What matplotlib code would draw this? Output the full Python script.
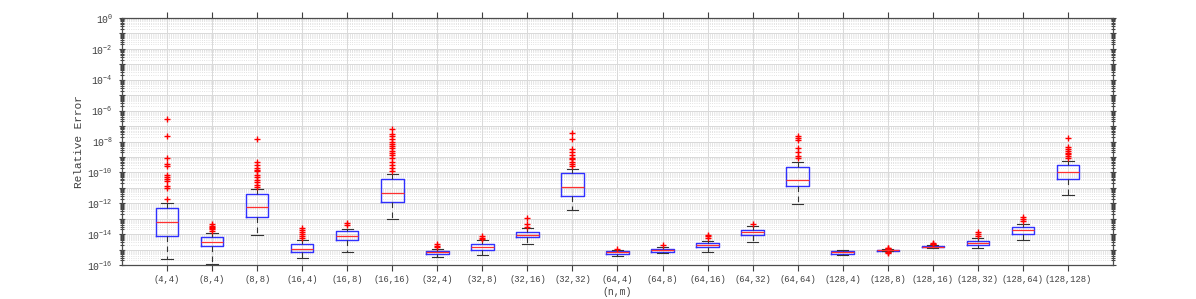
import numpy as np
import matplotlib.pyplot as plt
from matplotlib.ticker import LogLocator, FuncFormatter, NullFormatter

plt.rcParams['mathtext.fontset'] = 'custom'
plt.rcParams['mathtext.rm'] = 'Liberation Mono'
plt.rcParams['mathtext.it'] = 'Liberation Mono'
plt.rcParams['mathtext.bf'] = 'Liberation Mono'

# group labels
labels = ['(4,4)', '(8,4)', '(8,8)', '(16,4)', '(16,8)', '(16,16)', '(32,4)', '(32,8)',
          '(32,16)', '(32,32)', '(64,4)', '(64,8)', '(64,16)', '(64,32)', '(64,64)',
          '(128,4)', '(128,8)', '(128,16)', '(128,32)', '(128,64)', '(128,128)']

# box statistics, log10 of relative error
med = [-13.21, -14.51, -12.22, -14.99, -14.12, -11.33, -15.18, -14.81, -14.03, -10.97, -15.18,
       -15.06, -14.70, -13.89, -10.52, -15.18, -15.05, -14.82, -14.60, -13.76, -9.96]
q1 = [-14.14, -14.75, -12.89, -15.16, -14.38, -11.92, -15.31, -15.01, -14.21, -11.51, -15.26,
      -15.16, -14.83, -14.06, -10.86, -15.27, -15.08, -14.86, -14.73, -13.97, -10.43]
q3 = [-12.33, -14.21, -11.42, -14.64, -13.82, -10.45, -15.07, -14.64, -13.86, -10.02, -15.11,
      -14.96, -14.57, -13.73, -9.67, -15.10, -15.02, -14.79, -14.44, -13.54, -9.55]
whislo = [-15.59, -15.91, -14.08, -15.54, -15.14, -13.00, -15.48, -15.33, -14.66, -12.44, -15.44,
          -15.22, -15.14, -14.51, -12.05, -15.36, -15.12, -14.92, -14.90, -14.36, -11.46]
whishi = [-12.00, -13.93, -11.06, -14.36, -13.69, -10.08, -14.94, -14.40, -13.63, -9.78, -15.01,
          -14.86, -14.44, -13.50, -9.31, -15.00, -14.98, -14.72, -14.23, -13.34, -9.24]
outliers = [
    [-6.54, -7.64, -9.09, -9.46, -9.59, -10.15, -10.30, -10.43, -10.58, -10.86, -11.01, -11.75],
    [-13.34, -13.45, -13.55, -13.62, -13.70, -13.78],
    [-7.84, -9.31, -9.50, -9.72, -9.82, -9.93, -10.15, -10.30, -10.47, -10.65, -10.80, -10.95],
    [-13.60, -13.75, -13.88, -14.00, -14.12, -14.22],
    [-13.28, -13.41],
    [-7.17, -7.50, -7.62, -7.85, -8.00, -8.15, -8.30, -8.45, -8.60, -8.75, -8.90, -9.10,
     -9.30, -9.50, -9.70, -9.90],
    [-14.62, -14.75, -14.86],
    [-14.10, -14.23, -14.30],
    [-12.93, -13.32, -13.54],
    [-7.47, -7.84, -8.51, -8.70, -8.90, -9.05, -9.15, -9.30, -9.45, -9.60],
    [-14.94],
    [-14.73],
    [-14.03, -14.14, -14.22],
    [-13.32],
    [-7.62, -7.75, -7.88, -8.42, -8.70, -8.96, -9.05],
    [],
    [-14.90, -14.93, -14.95, -15.15, -15.17, -15.20],
    [-14.55, -14.62, -14.66],
    [-13.84, -13.99, -14.12],
    [-12.91, -13.02, -13.13],
    [-7.80, -8.34, -8.48, -8.60, -8.72, -8.84, -8.96, -9.06],
]

stats = []
for i in range(len(labels)):
    stats.append(dict(med=10**med[i], q1=10**q1[i], q3=10**q3[i],
                      whislo=10**whislo[i], whishi=10**whishi[i],
                      fliers=10**np.array(outliers[i], dtype=float)))

txt = '#404040'
fig = plt.figure(figsize=(11.96, 2.99), dpi=100)
ax = fig.add_axes([0.102, 0.1137, 0.8286, 0.8261])
pos = np.arange(1, len(labels) + 1)

ax.bxp(stats, positions=pos, widths=0.5, capwidths=0.25,
       boxprops=dict(color='#3030ff', linewidth=1.0),
       medianprops=dict(color='#ff3030', linewidth=0.9),
       whiskerprops=dict(color='#333333', linewidth=0.8, linestyle=(0, (5, 4))),
       capprops=dict(color='#333333', linewidth=0.8),
       flierprops=dict(marker='+', markeredgecolor='red', markersize=5, linestyle='none'))

ax.set_yscale('log')
ax.set_ylim(1e-16, 1e0)
ax.set_xlim(0, 22)
ax.set_xticks(pos)
ax.set_xticklabels(labels, family='Liberation Mono', fontsize=6.3, color=txt)

ax.yaxis.set_major_locator(LogLocator(base=10, numticks=30))
ax.yaxis.set_major_formatter(FuncFormatter(
    lambda v, p: r'$10^{%d}$' % round(np.log10(v)) if round(np.log10(v)) % 2 == 0 else ''))
ax.yaxis.set_minor_locator(LogLocator(base=10, subs=np.arange(2, 10), numticks=30))
ax.yaxis.set_minor_formatter(NullFormatter())
for t in ax.get_yticklabels():
    t.set_color(txt)
    t.set_fontsize(7)

ax.grid(True, which='major', color='#d9d9d9', linewidth=0.7)
ax.grid(True, which='minor', axis='y', color='#d9d9d9', linestyle=':', linewidth=0.6)
ax.set_axisbelow(True)

ax.tick_params(axis='x', direction='out', top=True, length=4, width=0.8, colors=txt)
ax.tick_params(axis='y', which='both', direction='inout', right=True, width=0.8, colors=txt)
ax.tick_params(axis='y', which='major', length=5, pad=4)
ax.tick_params(axis='y', which='minor', length=3)
for s in ax.spines.values():
    s.set_color('#4d4d4d')
    s.set_linewidth(0.9)

ax.set_xlabel('(n,m)', family='Liberation Mono', fontsize=7, color=txt, labelpad=2)
ax.set_ylabel('Relative Error', family='Liberation Mono', fontsize=8, color=txt, labelpad=2)

fig.savefig('out.png', dpi=100)
